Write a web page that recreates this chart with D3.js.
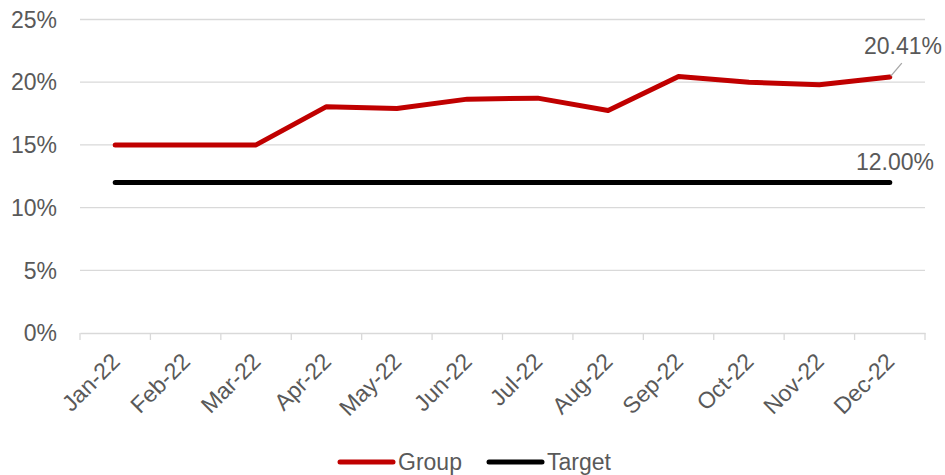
<!DOCTYPE html>
<html>
<head>
<meta charset="utf-8">
<script src="https://cdn.jsdelivr.net/npm/d3@7/dist/d3.min.js"></script>
<style>
  html, body { margin: 0; padding: 0; background: #fff; }
  svg { display: block; font-family: "Liberation Sans", Arial, sans-serif; }
</style>
</head>
<body>
<svg id="chart" width="945" height="475"></svg>
<script>
// Monthly categories
const months = ["Jan-22","Feb-22","Mar-22","Apr-22","May-22","Jun-22","Jul-22","Aug-22","Sep-22","Oct-22","Nov-22","Dec-22"];
// Group ratio (%) per month
const groupValues = [15.0, 15.0, 15.0, 18.05, 17.9, 18.65, 18.73, 17.75, 20.46, 20.0, 19.8, 20.41];
// Target ratio (%) per month
const targetValues = [12.0, 12.0, 12.0, 12.0, 12.0, 12.0, 12.0, 12.0, 12.0, 12.0, 12.0, 12.0];
// Y axis ticks (%)
const yTicks = [0, 5, 10, 15, 20, 25];
const seriesNames = ["Group", "Target"];
const seriesColors = ["#c00000", "#000000"];

const svg = d3.select("#chart");
const W = 945, H = 475;
const margin = { top: 19.5, right: 20, bottom: 142, left: 80 };
const innerW = W - margin.left - margin.right;
const innerH = H - margin.top - margin.bottom;
const fontSize = 23;

const x = d3.scaleBand().domain(months).range([margin.left, margin.left + innerW]).padding(0);
const y = d3.scaleLinear().domain([0, 25]).range([margin.top + innerH, margin.top]);
const cx = d => x(d) + x.bandwidth() / 2;

const textColor = "#595959";
const gridColor = "#d9d9d9";

// Horizontal gridlines
svg.append("g").selectAll("line").data(yTicks.filter(t => t > 0)).join("line")
  .attr("x1", margin.left).attr("x2", margin.left + innerW)
  .attr("y1", d => y(d)).attr("y2", d => y(d))
  .attr("stroke", gridColor).attr("stroke-width", 1.3);

// Y axis labels
svg.append("g").selectAll("text").data(yTicks).join("text")
  .attr("x", 57).attr("y", d => y(d))
  .attr("dy", "0.36em")
  .attr("text-anchor", "end")
  .attr("font-size", fontSize)
  .attr("fill", textColor)
  .text(d => d + "%");

// X axis baseline and tick marks at category boundaries
const xAxis = d3.axisBottom(x).tickSize(0).tickFormat("");
const gx = svg.append("g").attr("transform", `translate(0,${y(0)})`).call(xAxis);
gx.select(".domain").attr("stroke", gridColor).attr("stroke-width", 1.3);
const edges = months.map(m => x(m)).concat([margin.left + innerW]);
svg.append("g").selectAll("line").data(edges).join("line")
  .attr("x1", d => d).attr("x2", d => d)
  .attr("y1", y(0)).attr("y2", y(0) + 7)
  .attr("stroke", gridColor).attr("stroke-width", 1.3);

// X axis labels, rotated
svg.append("g").selectAll("text").data(months).join("text")
  .attr("transform", d => `translate(${cx(d) + 6},${y(0) + 30}) rotate(-45)`)
  .attr("text-anchor", "end")
  .attr("font-size", fontSize)
  .attr("fill", textColor)
  .text(d => d);

// Series lines
const line = d3.line().x((d, i) => cx(months[i])).y(d => y(d));
svg.append("path").datum(targetValues)
  .attr("d", line).attr("fill", "none")
  .attr("stroke", seriesColors[1]).attr("stroke-width", 5)
  .attr("stroke-linecap", "round").attr("stroke-linejoin", "round");
svg.append("path").datum(groupValues)
  .attr("d", line).attr("fill", "none")
  .attr("stroke", seriesColors[0]).attr("stroke-width", 5)
  .attr("stroke-linecap", "round").attr("stroke-linejoin", "round");

// Data labels on the last points
const last = months.length - 1;
const gX = cx(months[last]), gY = y(groupValues[last]);
svg.append("line")
  .attr("x1", gX + 1).attr("y1", gY - 1)
  .attr("x2", gX + 12).attr("y2", gY - 14)
  .attr("stroke", "#a6a6a6").attr("stroke-width", 1.3);
svg.append("text")
  .attr("x", 942).attr("y", gY - 23.5)
  .attr("text-anchor", "end")
  .attr("font-size", fontSize)
  .attr("fill", textColor)
  .text(groupValues[last].toFixed(2) + "%");
svg.append("text")
  .attr("x", 934).attr("y", y(targetValues[last]) - 13)
  .attr("text-anchor", "end")
  .attr("font-size", fontSize)
  .attr("fill", textColor)
  .text(targetValues[last].toFixed(2) + "%");

// Legend
const legend = svg.append("g").attr("transform", "translate(0,462)");
const legendItems = [{ x: 340, name: seriesNames[0], color: seriesColors[0] },
                     { x: 489, name: seriesNames[1], color: seriesColors[1] }];
legendItems.forEach(it => {
  legend.append("line")
    .attr("x1", it.x).attr("x2", it.x + 53)
    .attr("y1", 0).attr("y2", 0)
    .attr("stroke", it.color).attr("stroke-width", 5)
    .attr("stroke-linecap", "round");
  legend.append("text")
    .attr("x", it.x + 58).attr("y", 0)
    .attr("dy", "0.36em")
    .attr("font-size", fontSize)
    .attr("fill", textColor)
    .text(it.name);
});
</script>
</body>
</html>
